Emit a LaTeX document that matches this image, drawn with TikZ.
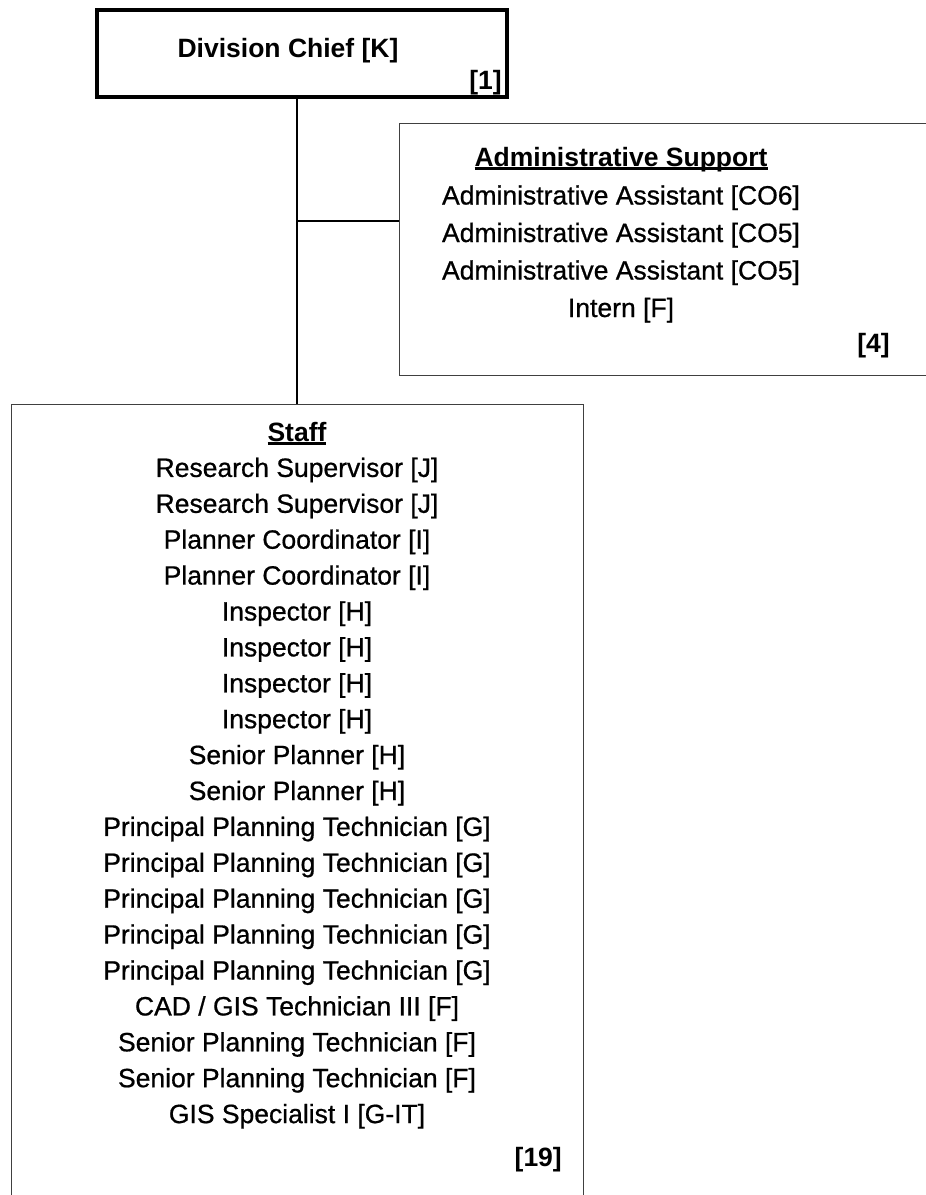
\documentclass[tikz,border=0pt]{standalone}
\usepackage{fontspec}
\setmainfont{Liberation Sans}
\newfontfamily\entryfont[FakeBold=0.7]{Liberation Sans}
\begin{document}
\newcommand\hdline[1]{\setbox0\hbox{#1}\rlap{\rule[-3.5pt]{\wd0}{2.2pt}}\box0}
\begin{tikzpicture}[x=1pt,y=-1pt,
  chiefbox/.style={draw, line width=4pt, rectangle, inner sep=0pt},
  groupbox/.style={draw=black!75, line width=1pt, rectangle, inner sep=0pt},
  item/.style={font=\entryfont\fontsize{26.5}{31}\selectfont, inner sep=0pt, anchor=base},
  heading/.style={font=\fontsize{26.5}{31}\selectfont\bfseries, inner sep=0pt, anchor=base},
  count/.style={font=\fontsize{26.5}{31}\selectfont\bfseries, inner sep=0pt, anchor=base east},
  link/.style={line width=2.6pt}]
\useasboundingbox (0,0) rectangle (926,1195);
\clip (0,0) rectangle (926,1195);

% boxes
\node[chiefbox, minimum width=410pt, minimum height=87pt] (chief) at (302,53.5) {};
\node[groupbox, minimum width=561pt, minimum height=252pt] (admin) at (679.5,249) {};
\node[groupbox, minimum width=572pt, minimum height=826pt] (staff) at (297,817) {};

% division chief
\node[heading] (chiefname) at (288,57) {Division Chief [K]};
\node[count] (chiefcount) at (502,89) {[1]};

% administrative support
\node[heading] (adminhead) at (621,166) {\hdline{Administrative Support}};
\foreach \t [count=\i] in {Administrative Assistant [CO6], Administrative Assistant [CO5],
    Administrative Assistant [CO5], Intern [F]}
  \node[item] (a\i) at (621,{167+37.5*\i}) {\t};
\node[count] (admincount) at (890,352) {[4]};

% staff
\node[heading] (staffhead) at (297,441) {\hdline{Staff}};
\foreach \t [count=\i] in {Research Supervisor [J], Research Supervisor [J],
    Planner Coordinator [I], Planner Coordinator [I],
    Inspector [H], Inspector [H], Inspector [H], Inspector [H],
    Senior Planner [H], Senior Planner [H],
    Principal Planning Technician [G], Principal Planning Technician [G],
    Principal Planning Technician [G], Principal Planning Technician [G],
    Principal Planning Technician [G],
    CAD / GIS Technician III [F],
    Senior Planning Technician [F], Senior Planning Technician [F],
    GIS Specialist I [G-IT]}
  \node[item] (s\i) at (297,{441+35.9*\i}) {\t};
\node[count] (staffcount) at (562,1166) {[19]};

% connectors
\coordinate (junction) at (staff.north |- 0,221);
\draw[link] (chief.south -| staff.north) -- (staff.north);
\draw[link] (junction) -- (junction -| admin.west);
\end{tikzpicture}
\end{document}
